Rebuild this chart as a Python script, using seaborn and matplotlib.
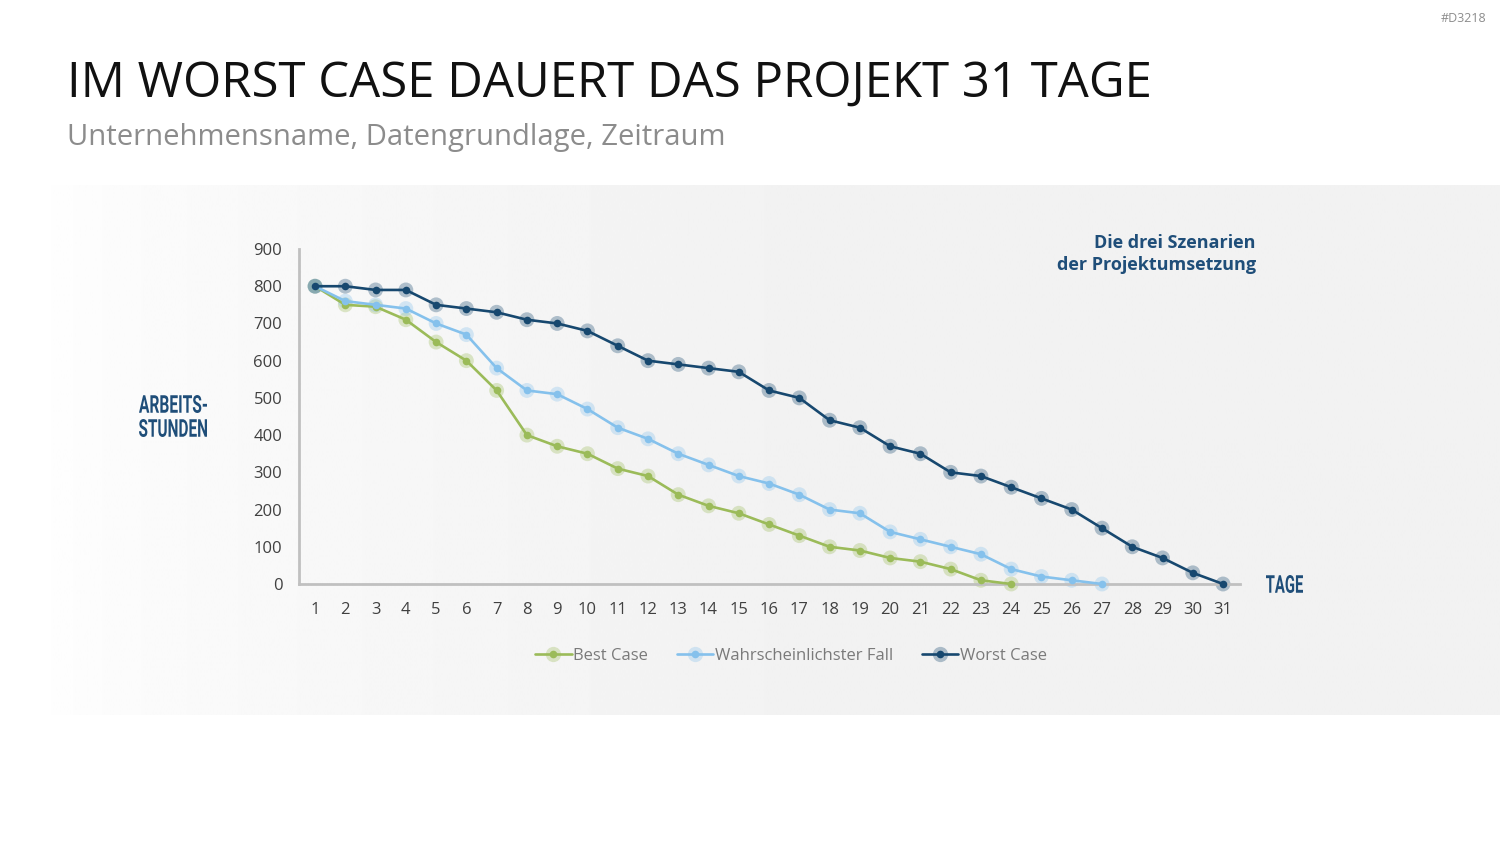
"""
Projektverlauf: Best Case, wahrscheinlichster Fall und Worst Case
"""
import numpy as np
import pandas as pd
import matplotlib.pyplot as plt
import seaborn as sns
from matplotlib.lines import Line2D
from matplotlib.legend_handler import HandlerTuple
from matplotlib.textpath import TextPath
from matplotlib.patches import PathPatch
from matplotlib.font_manager import FontProperties
from matplotlib.transforms import Affine2D, IdentityTransform

# Daten
tage_best = list(range(1, 25))
stunden_best = [800, 750, 745, 710, 650, 600, 520, 400, 370, 350, 310, 290,
                240, 210, 190, 160, 130, 100, 90, 70, 60, 40, 10, 0]
tage_wahr = list(range(1, 28))
stunden_wahr = [800, 760, 750, 740, 700, 670, 580, 520, 510, 470, 420, 390,
                350, 320, 290, 270, 240, 200, 190, 140, 120, 100, 80, 40, 20, 10, 0]
tage_worst = list(range(1, 32))
stunden_worst = [800, 800, 790, 790, 750, 740, 730, 710, 700, 680, 640, 600,
                 590, 580, 570, 520, 500, 440, 420, 370, 350, 300, 290, 260,
                 230, 200, 150, 100, 70, 30, 0]
szenarien = ["Best Case", "Wahrscheinlichster Fall", "Worst Case"]
farben = ["#9BBB59", "#85C1EC", "#17486F"]

frames = []
for name, tage, werte in zip(szenarien,
                             [tage_best, tage_wahr, tage_worst],
                             [stunden_best, stunden_wahr, stunden_worst]):
    frames.append(pd.DataFrame({"tag": tage, "stunden": werte, "szenario": name}))
data = pd.concat(frames, ignore_index=True)

sns.set_theme(style="white")
plt.rcParams['font.family'] = ['Open Sans', 'DejaVu Sans']

W, H = 1500, 844
fig = plt.figure(figsize=(15, 8.44), dpi=100)
fig.patch.set_facecolor("white")


def condensed_text(text, left, top, width, height, color):
    """Schmale Versalschrift: Textpfad in eine Box (Pixel, von oben gemessen) einpassen"""
    path = TextPath((0, 0), text, size=30, prop=FontProperties(family="Roboto", weight="bold"))
    ext = path.get_extents()
    trans = (Affine2D().translate(-ext.x0, -ext.y0)
             .scale(width / ext.width, height / ext.height)
             .translate(left, H - top - height))
    fig.patches.append(PathPatch(path, transform=trans + IdentityTransform(),
                                 facecolor=color, edgecolor="none", figure=fig))


# Hintergrundfläche mit weichem Verlauf von links nach rechts
bg = fig.add_axes([40 / W, 1 - 715 / H, 1460 / W, 530 / H], zorder=0)
t = np.linspace(0, 1, 600)
grad = (1.0 - 0.051 * np.clip(t / 0.5, 0, 1) ** 0.6)[None, :]
bg.imshow(grad, aspect="auto", cmap="gray", vmin=0, vmax=1, extent=[0, 1, 0, 1],
          interpolation="bilinear")
bg.set_axis_off()

ax = fig.add_axes([299 / W, 1 - 584 / H, 941 / W, 335 / H], zorder=1)
ax.patch.set_alpha(0)

palette = dict(zip(szenarien, farben))
# Halo um die Punkte
sns.scatterplot(data=data, x="tag", y="stunden", hue="szenario", palette=palette,
                s=115, alpha=0.32, linewidth=0, legend=False, ax=ax, clip_on=False, zorder=2)
sns.lineplot(data=data, x="tag", y="stunden", hue="szenario", palette=palette,
             marker="o", markersize=5.5, markeredgewidth=0, linewidth=1.9,
             legend=False, ax=ax, clip_on=False, zorder=3)

ax.set_xlim(0.47, 31.56)
ax.set_ylim(0, 900)
ax.set_xticks(range(1, 32))
ax.set_yticks(range(0, 901, 100))
ax.tick_params(axis="both", length=0, labelsize=12, labelcolor="#404040")
ax.tick_params(axis="y", pad=12)
ax.tick_params(axis="x", pad=13)
ax.set_xlabel("")
ax.set_ylabel("")
sns.despine(ax=ax)
for side in ["left", "bottom"]:
    ax.spines[side].set_color("#c0c0c0")
    ax.spines[side].set_linewidth(2)

# Legende
handles = []
for farbe in farben:
    halo = Line2D([], [], color=farbe, marker="o", markersize=11, alpha=0.32,
                  linestyle="none", markeredgewidth=0)
    linie = Line2D([], [], color=farbe, marker="o", markersize=5.5, linewidth=1.9,
                   markeredgewidth=0)
    handles.append((halo, linie))
fig.legend(handles, szenarien, handler_map={tuple: HandlerTuple(ndivide=1, pad=0)},
           loc="center", bbox_to_anchor=(791 / W, 1 - 656 / H), ncol=3,
           frameon=False, fontsize=12, labelcolor="#7a7a7a", handlelength=2.2,
           handletextpad=0.1, columnspacing=1.7)

# Texte
fig.text(67 / W, 1 - 84 / H, "IM WORST CASE DAUERT DAS PROJEKT 31 TAGE",
         fontsize=35.4, color="#111111", va="center", ha="left")
fig.text(67 / W, 1 - 138 / H, "Unternehmensname, Datengrundlage, Zeitraum",
         fontsize=21.1, color="#8c8c8c", va="center", ha="left")
fig.text(1486 / W, 1 - 19 / H, "#D3218", fontsize=9, color="#8c8c8c",
         va="center", ha="right")
fig.text(1256 / W, 1 - 254 / H, "Die drei Szenarien\nder Projektumsetzung",
         fontsize=13, fontweight="bold", color="#1F4E79", va="center", ha="right",
         linespacing=1.3)
condensed_text("ARBEITS-", 139, 395, 68, 18, "#1F4E79")
condensed_text("STUNDEN", 139, 419, 68, 18, "#1F4E79")
condensed_text("TAGE", 1266, 575, 37, 18, "#1F4E79")

fig.savefig("out.png", dpi=100)
